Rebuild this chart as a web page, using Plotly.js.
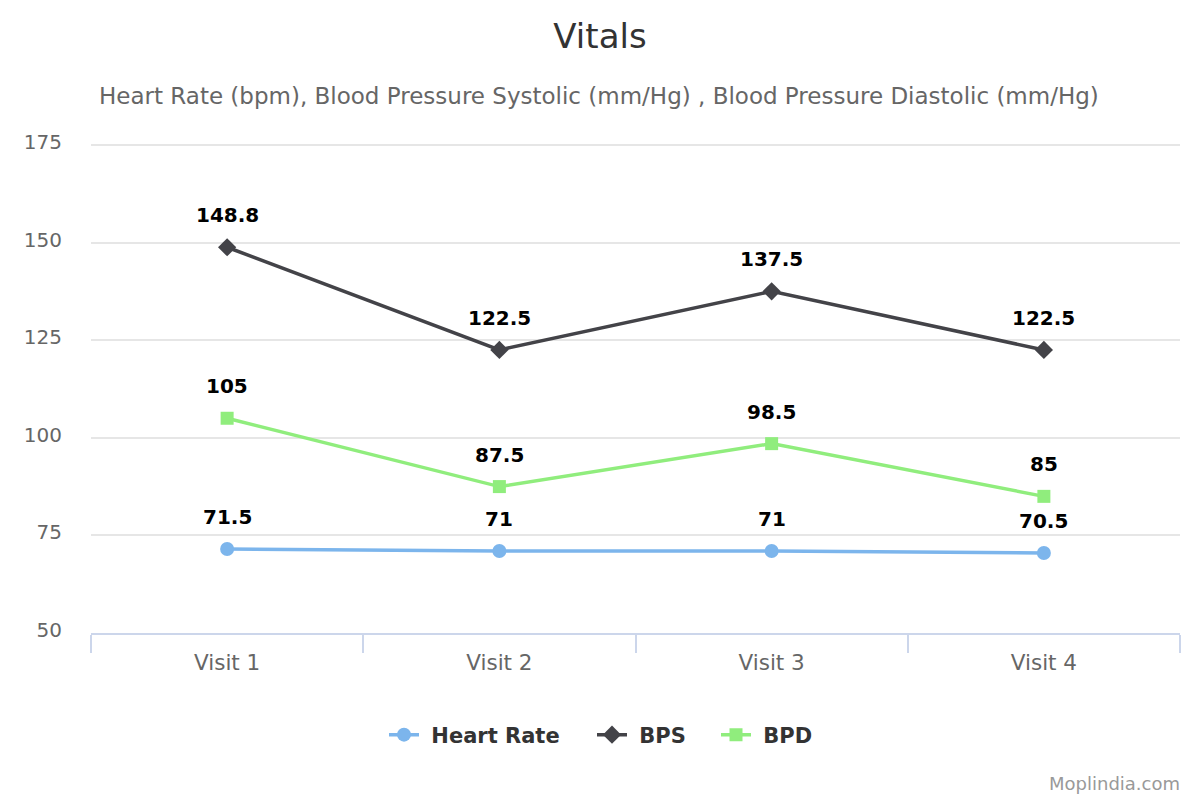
<!DOCTYPE html>
<html>
<head>
<meta charset="utf-8">
<script src="https://cdn.plot.ly/plotly-3.0.1.min.js"></script>
<style>html,body{margin:0;padding:0;background:#fff;}#chart{width:1200px;height:800px;}</style>
</head>
<body>
<div id="chart"></div>
<script>
var categories = ["Visit 1", "Visit 2", "Visit 3", "Visit 4"];
var heartRate = [71.5, 71, 71, 70.5];
var bps = [148.8, 122.5, 137.5, 122.5];
var bpd = [105, 87.5, 98.5, 85];
var yTicks = [50, 75, 100, 125, 150, 175];

var FONT = "DejaVu Sans, Verdana, sans-serif";
var L = 91, R = 1180, T = 143, B = 633;
function px2x(px) { return (px - L) / (R - L); }
function px2y(py) { return (B - py) / (B - T); }

var seriesDefs = [
  {name: "Heart Rate", vals: heartRate, color: "#7cb5ec", symbol: "circle", size: 14, legend: "legend", lx: 384},
  {name: "BPS", vals: bps, color: "#434348", symbol: "diamond", size: 14, legend: "legend2", lx: 592},
  {name: "BPD", vals: bpd, color: "#90ed7d", symbol: "square", size: 13, legend: "legend3", lx: 716}
];

var data = seriesDefs.map(function (s) {
  return {
    type: "scatter",
    mode: "lines+markers",
    name: "\u00a0" + s.name,
    x: categories,
    y: s.vals,
    line: {color: s.color, width: 3.5},
    marker: {color: s.color, symbol: s.symbol, size: s.size},
    cliponaxis: false,
    legend: s.legend,
    hoverinfo: "x+y+name"
  };
});

var annotations = [
  {
    text: "Heart Rate (bpm), Blood Pressure Systolic (mm/Hg) , Blood Pressure Diastolic (mm/Hg)",
    xref: "paper", yref: "paper",
    x: px2x(599), y: px2y(96),
    xanchor: "center", yanchor: "middle",
    showarrow: false,
    font: {family: FONT, size: 23, color: "#666666"}
  },
  {
    text: "Moplindia.com",
    xref: "paper", yref: "paper",
    x: px2x(1182), y: px2y(783),
    xanchor: "right", yanchor: "middle",
    showarrow: false,
    font: {family: FONT, size: 18, color: "#999999"}
  }
];

seriesDefs.forEach(function (s) {
  s.vals.forEach(function (v, i) {
    annotations.push({
      x: categories[i], y: v, xref: "x", yref: "y",
      text: "<b>" + v + "</b>",
      showarrow: false,
      xanchor: "center", yanchor: "middle",
      yshift: 32,
      font: {family: FONT, size: 20, color: "#000000"}
    });
  });
});

function legendAt(px) {
  return {
    orientation: "h",
    x: px2x(px), xanchor: "left",
    y: px2y(735), yanchor: "middle",
    font: {family: FONT, size: 21, color: "#333333", weight: "bold"},
    itemwidth: 30,
    bgcolor: "rgba(0,0,0,0)"
  };
}

var layout = {
  width: 1200,
  height: 800,
  margin: {l: L, r: 1200 - R, t: T, b: 800 - B},
  paper_bgcolor: "#ffffff",
  plot_bgcolor: "#ffffff",
  font: {family: FONT, color: "#666666"},
  title: {
    text: "Vitals",
    font: {family: FONT, size: 34, color: "#333333"},
    x: 0.5, xanchor: "center",
    y: 1 - 36 / 800, yref: "container", yanchor: "middle"
  },
  xaxis: {
    type: "category",
    range: [-0.5, 3.5],
    showgrid: false,
    showline: true,
    linecolor: "#ccd6eb",
    linewidth: 2,
    ticks: "outside",
    tickson: "boundaries",
    ticklen: 18,
    tickwidth: 2,
    tickcolor: "#ccd6eb",
    ticklabelstandoff: 9,
    tickfont: {family: FONT, size: 21.5, color: "#666666"},
    fixedrange: true
  },
  yaxis: {
    range: [50, 175.5],
    tickvals: yTicks,
    ticktext: yTicks.map(String),
    showgrid: true,
    gridcolor: "#e6e6e6",
    gridwidth: 2,
    zeroline: false,
    showline: false,
    ticks: "",
    ticklabelstandoff: 28,
    ticklabelshift: -3,
    tickfont: {family: FONT, size: 20, color: "#666666"},
    fixedrange: true
  },
  showlegend: true,
  legend: legendAt(seriesDefs[0].lx),
  legend2: legendAt(seriesDefs[1].lx),
  legend3: legendAt(seriesDefs[2].lx),
  annotations: annotations
};

Plotly.newPlot("chart", data, layout, {displayModeBar: false, staticPlot: true});
</script>
</body>
</html>
